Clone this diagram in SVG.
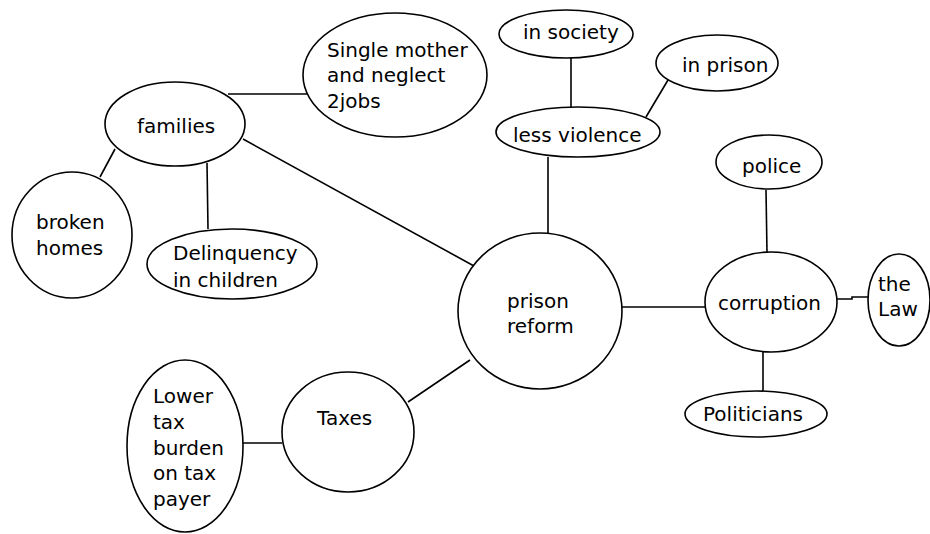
<svg xmlns="http://www.w3.org/2000/svg" width="930" height="534" viewBox="0 0 930 534">
<style>
.n{fill:#fff;stroke:#000;stroke-width:1.6}
.c line,.c polyline{stroke:#000;stroke-width:1.6;fill:none}
text{font-family:"DejaVu Sans","Liberation Sans",sans-serif;font-size:20px;fill:#000}
</style>
<rect width="930" height="534" fill="#fff"/>
<g class="c" id="connectors">
<line x1="228" y1="94" x2="307" y2="94"/>
<line x1="243" y1="139" x2="474" y2="266"/>
<line x1="115" y1="149" x2="100" y2="177"/>
<line x1="207" y1="163" x2="208" y2="229"/>
<line x1="571" y1="58" x2="571" y2="107"/>
<line x1="646" y1="117" x2="668" y2="80"/>
<line x1="548" y1="157" x2="548" y2="233"/>
<line x1="622" y1="307" x2="705" y2="307"/>
<line x1="766" y1="190" x2="767" y2="253"/>
<polyline points="837,299 852,299 852,297 868,297"/>
<line x1="763" y1="352" x2="763" y2="392"/>
<line x1="408" y1="402" x2="470" y2="360"/>
<line x1="243" y1="443" x2="282" y2="443"/>
</g>
<g id="families"><ellipse class="n" cx="175" cy="124" rx="70" ry="42"/><text x="137" y="133">families</text></g>
<g id="broken-homes"><ellipse class="n" cx="72" cy="235" rx="60" ry="63"/><text x="36" y="229">broken</text><text x="36" y="255">homes</text></g>
<g id="delinquency"><ellipse class="n" cx="232" cy="264" rx="85" ry="35"/><text x="173" y="260">Delinquency</text><text x="173" y="287">in children</text></g>
<g id="single-mother"><ellipse class="n" cx="395" cy="75" rx="92" ry="62"/><text x="327" y="57">Single mother</text><text x="327" y="82">and neglect</text><text x="327" y="108">2jobs</text></g>
<g id="in-society"><ellipse class="n" cx="566" cy="34" rx="67" ry="24"/><text x="523" y="39">in society</text></g>
<g id="in-prison"><ellipse class="n" cx="717" cy="63" rx="61" ry="28"/><text x="682" y="72">in prison</text></g>
<g id="less-violence"><ellipse class="n" cx="578" cy="132" rx="82" ry="25"/><text x="513" y="142">less violence</text></g>
<g id="prison-reform"><ellipse class="n" cx="540" cy="311" rx="82" ry="78"/><text x="507" y="308">prison</text><text x="507" y="333">reform</text></g>
<g id="corruption"><ellipse class="n" cx="771" cy="302" rx="66" ry="50"/><text x="718" y="310">corruption</text></g>
<g id="police"><ellipse class="n" cx="769" cy="162" rx="53" ry="27"/><text x="742" y="173">police</text></g>
<g id="the-law"><ellipse class="n" cx="899" cy="300" rx="31" ry="46"/><text x="878" y="291">the</text><text x="878" y="316">Law</text></g>
<g id="politicians"><ellipse class="n" cx="756" cy="414" rx="71" ry="23"/><text x="703" y="421">Politicians</text></g>
<g id="taxes"><ellipse class="n" cx="348" cy="432" rx="66" ry="60"/><text x="317" y="425">Taxes</text></g>
<g id="lower-tax"><ellipse class="n" cx="185" cy="446" rx="58" ry="86"/><text x="153" y="403">Lower</text><text x="153" y="429">tax</text><text x="153" y="455">burden</text><text x="153" y="480">on tax</text><text x="153" y="506">payer</text></g>
</svg>
